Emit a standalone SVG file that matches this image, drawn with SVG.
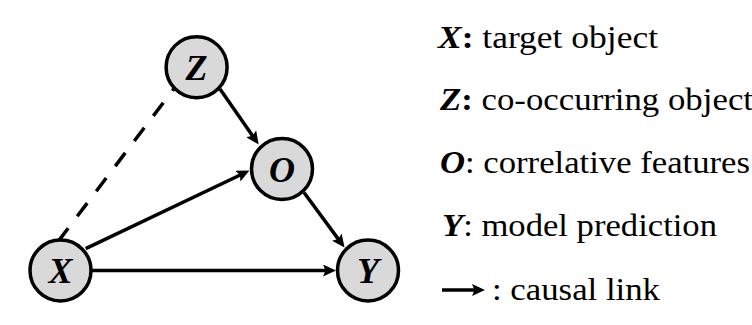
<svg xmlns="http://www.w3.org/2000/svg" width="752" height="325" viewBox="0 0 752 325">
  <defs>
    <marker id="arrow" viewBox="0 0 13 12" markerUnits="userSpaceOnUse" markerWidth="13" markerHeight="12" refX="5" refY="6" orient="auto">
      <path d="M0,0 L13,6 L0,12 L2.5,6 Z" fill="#000"/>
    </marker>
  </defs>
  <rect width="752" height="325" fill="#fff"/>

  <g id="connectors" stroke="#000" stroke-width="3.5" fill="none">
    <path d="M182.3,77.6 L58.2,241.4" stroke-dasharray="16.5 15"/>
    <path d="M220,89 L254.1,137.9" marker-end="url(#arrow)"/>
    <path d="M85.7,248.7 L242.3,174" marker-end="url(#arrow)"/>
    <path d="M304,192.5 L339.8,241.1" marker-end="url(#arrow)"/>
    <path d="M92,270.5 L328,270.5" marker-end="url(#arrow)"/>
  </g>

  <g id="nodes" fill="#d9d9d9" stroke="#000" stroke-width="3.5">
    <g id="node-Z">
      <circle cx="196.6" cy="67.2" r="30.5"/>
      <text x="196.6" y="80" fill="#000" stroke="none" font-family="'Liberation Serif', 'Times New Roman', serif" font-size="36" font-style="italic" font-weight="bold" text-anchor="middle">Z</text>
    </g>
    <g id="node-O">
      <circle cx="282" cy="169" r="30.5"/>
      <text x="282" y="181.5" fill="#000" stroke="none" font-family="'Liberation Serif', 'Times New Roman', serif" font-size="36" font-style="italic" font-weight="bold" text-anchor="middle">O</text>
    </g>
    <g id="node-X">
      <circle cx="60.5" cy="270.5" r="30.5"/>
      <text x="60.5" y="283" fill="#000" stroke="none" font-family="'Liberation Serif', 'Times New Roman', serif" font-size="36" font-style="italic" font-weight="bold" text-anchor="middle">X</text>
    </g>
    <g id="node-Y">
      <circle cx="368" cy="270.5" r="30.5"/>
      <text x="368" y="283" fill="#000" stroke="none" font-family="'Liberation Serif', 'Times New Roman', serif" font-size="36" font-style="italic" font-weight="bold" text-anchor="middle">Y</text>
    </g>
  </g>

  <g id="legend" fill="#000">
    <text x="438" y="48" font-family="'Liberation Serif', 'Times New Roman', serif" font-size="32" textLength="220" lengthAdjust="spacingAndGlyphs"><tspan font-style="italic" font-weight="bold">X</tspan><tspan font-weight="bold">:</tspan> target object</text>
    <text x="440" y="110" font-family="'Liberation Serif', 'Times New Roman', serif" font-size="32" textLength="313" lengthAdjust="spacingAndGlyphs"><tspan font-style="italic" font-weight="bold">Z</tspan><tspan font-weight="bold">:</tspan> co-occurring object</text>
    <text x="440" y="173" font-family="'Liberation Serif', 'Times New Roman', serif" font-size="32" textLength="310" lengthAdjust="spacingAndGlyphs"><tspan font-style="italic" font-weight="bold">O</tspan>: correlative features</text>
    <text x="442" y="236" font-family="'Liberation Serif', 'Times New Roman', serif" font-size="32" textLength="275" lengthAdjust="spacingAndGlyphs"><tspan font-style="italic" font-weight="bold">Y</tspan>: model prediction</text>
    <path d="M442,290 L477,290" stroke="#000" stroke-width="3.5" fill="none" marker-end="url(#arrow)"/>
    <text x="492" y="300" font-family="'Liberation Serif', 'Times New Roman', serif" font-size="32" textLength="168" lengthAdjust="spacingAndGlyphs">: causal link</text>
  </g>
</svg>
